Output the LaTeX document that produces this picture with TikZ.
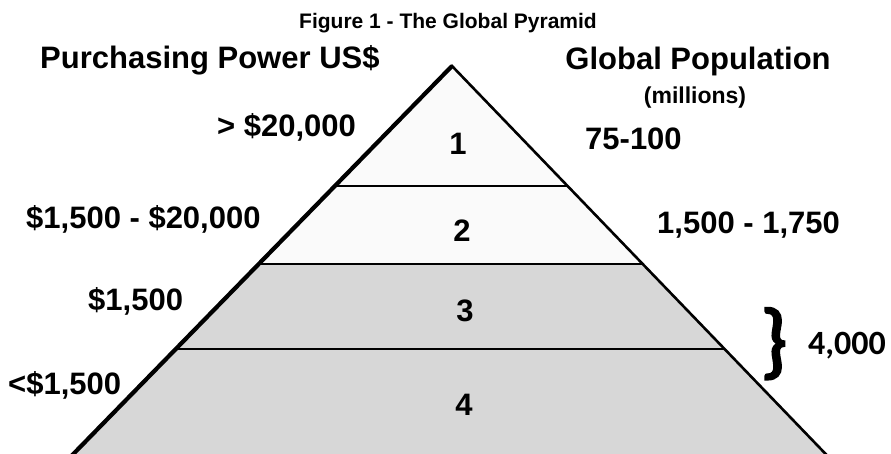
\documentclass[tikz,border=0pt]{standalone}
\usepackage{fontspec}
\setmainfont{Liberation Sans}
\newfontfamily\calib{Carlito}
\newfontfamily\bracefont{Carlito}[FakeBold=3]
\definecolor{tierlight}{HTML}{FAFAFA}
\definecolor{tiergray}{HTML}{D7D7D7}
\begin{document}
\begin{tikzpicture}[x=1pt,y=-1pt,
  lbl/.style={inner sep=0pt,font=\fontsize{31}{31}\selectfont\bfseries},
  numlbl/.style={inner sep=0pt,anchor=base,font=\fontsize{31}{31}\selectfont\bfseries},
  tierline/.style={line width=2.2pt},
]
\useasboundingbox (0,0) rectangle (891,453);
\clip (0,0) rectangle (891,453);
% pyramid coordinates
\coordinate (apex) at (452,66);
\coordinate (l12) at (334.9,186);  \coordinate (r12) at (567.6,186);
\coordinate (l23) at (258.8,264);  \coordinate (r23) at (642.7,264);
\coordinate (l34) at (175.8,349);  \coordinate (r34) at (724.5,349);
\coordinate (lb) at (57.7,470);    \coordinate (rb) at (841.1,470);
% fills
\fill[tierlight] (apex) -- (l23) -- (r23) -- cycle;
\fill[tiergray] (l23) -- (lb) -- (rb) -- (r23) -- cycle;
% tier lines
\draw[tierline] (l12) -- (r12);
\draw[tierline] (l23) -- (r23);
\draw[tierline] (l34) -- (r34);
% edges
\draw[line width=2.6pt,line join=miter] (lb) -- (apex) -- (rb);
\draw[line width=4.2pt] (lb) -- (apex);
% title and headers
\node[inner sep=0pt,anchor=base,font=\fontsize{21}{21}\selectfont\bfseries] (title) at (448,28) {Figure 1 - The Global Pyramid};
\node[lbl,anchor=base west] (hleft) at (40,68) {Purchasing Power US\$};
\node[lbl,anchor=base] (hright) at (698,69) {Global Population};
\node[inner sep=0pt,anchor=base,font=\fontsize{23}{23}\selectfont\bfseries] (mill) at (695,103) {(millions)};
% left labels
\node[lbl,anchor=base west] (p1) at (217,136) {> \$20,000};
\node[lbl,anchor=base west] (p2) at (26,228) {\$1,500 - \$20,000};
\node[lbl,anchor=base west] (p3) at (88,310) {\$1,500};
\node[lbl,anchor=base west] (p4) at (8,394) {<\$1,500};
% right labels
\node[lbl,anchor=base west] (g1) at (585,149) {75-100};
\node[lbl,anchor=base west] (g2) at (657,233) {1,500 - 1,750};
\node[inner sep=0pt,anchor=base,font=\fontsize{83}{83}\selectfont\bracefont] (brace) at (774,368) {\}};
\node[inner sep=0pt,anchor=base west,font=\fontsize{34}{34}\selectfont\calib\bfseries] (g34) at (808,354) {4,000};
% tier numbers
\node[numlbl] (t1) at (458,154) {1};
\node[numlbl] (t2) at (462,241) {2};
\node[numlbl] (t3) at (465,321) {3};
\node[numlbl] (t4) at (464,415) {4};
\end{tikzpicture}
\end{document}
